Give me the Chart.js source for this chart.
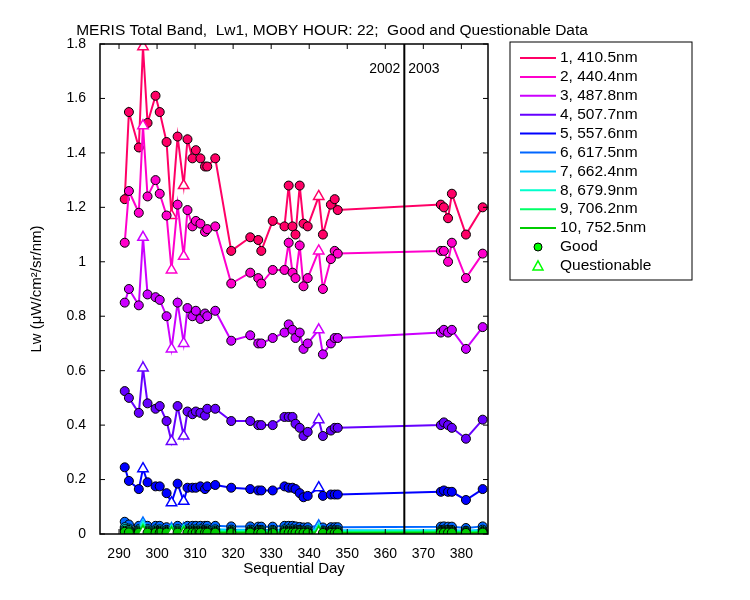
<!DOCTYPE html>
<html><head><meta charset="utf-8">
<script src="https://cdn.jsdelivr.net/npm/chart.js@4"></script>
<style>body{margin:0;background:#fff}canvas{display:block}</style>
</head><body><canvas id="c" width="750" height="600"></canvas>
<script>
const days=[291.5,292.6,295.2,296.3,297.5,299.6,300.7,302.5,303.8,305.4,307,308,309.3,310.2,311.4,312.6,313.2,315.3,319.5,324.5,326.6,327.4,330.4,333.5,334.6,335.6,336.4,337.5,338.5,339.6,342.5,343.6,345.7,346.7,347.5,374.6,375.4,376.5,377.5,381.2,385.6];
const questionable=[0,0,0,1,0,0,0,0,1,0,1,0,0,0,0,0,0,0,0,0,0,0,0,0,0,0,0,0,0,0,1,0,0,0,0,0,0,0,0,0,0];
const bandNames=["1, 410.5nm","2, 440.4nm","3, 487.8nm","4, 507.7nm","5, 557.6nm","6, 617.5nm","7, 662.4nm","8, 679.9nm","9, 706.2nm","10, 752.5nm"];
const band1=[1.23,1.55,1.42,1.79,1.51,1.61,1.55,1.44,1.17,1.46,1.28,1.45,1.38,1.41,1.38,1.35,1.35,1.38,1.04,1.09,1.08,1.04,1.15,1.13,1.28,1.13,1.10,1.28,1.14,1.13,1.24,1.10,1.21,1.23,1.19,1.21,1.20,1.16,1.25,1.10,1.20];
const band2=[1.07,1.26,1.18,1.50,1.24,1.30,1.25,1.17,0.97,1.21,1.02,1.19,1.13,1.15,1.14,1.11,1.12,1.13,0.92,0.96,0.94,0.92,0.97,0.97,1.07,0.96,0.94,1.06,0.91,0.94,1.04,0.90,1.01,1.04,1.03,1.04,1.04,1.00,1.07,0.94,1.03];
const band3=[0.85,0.90,0.84,1.09,0.88,0.87,0.86,0.80,0.68,0.85,0.70,0.83,0.80,0.82,0.79,0.81,0.80,0.82,0.71,0.73,0.70,0.70,0.72,0.74,0.77,0.75,0.72,0.74,0.68,0.70,0.75,0.66,0.70,0.72,0.72,0.74,0.75,0.74,0.75,0.68,0.76];
const band4=[0.525,0.50,0.445,0.61,0.48,0.46,0.47,0.415,0.34,0.47,0.36,0.45,0.44,0.45,0.445,0.435,0.46,0.46,0.415,0.415,0.40,0.40,0.40,0.43,0.43,0.43,0.405,0.39,0.36,0.375,0.42,0.36,0.38,0.39,0.39,0.40,0.41,0.40,0.39,0.35,0.42];
const band5=[0.245,0.195,0.165,0.24,0.19,0.175,0.175,0.15,0.115,0.185,0.12,0.17,0.17,0.17,0.175,0.165,0.175,0.18,0.17,0.165,0.16,0.16,0.16,0.175,0.17,0.17,0.165,0.15,0.135,0.14,0.17,0.14,0.145,0.145,0.145,0.155,0.16,0.155,0.155,0.125,0.165];
const band6=[0.045,0.035,0.03,0.04,0.03,0.03,0.03,0.025,0.02,0.03,0.02,0.03,0.03,0.03,0.03,0.03,0.03,0.03,0.028,0.028,0.027,0.027,0.027,0.03,0.03,0.03,0.028,0.026,0.024,0.025,0.03,0.024,0.025,0.025,0.025,0.027,0.028,0.027,0.027,0.022,0.028];
const band7=[0.025,0.02,0.018,0.03,0.018,0.017,0.017,0.015,0.012,0.018,0.012,0.017,0.017,0.017,0.017,0.016,0.017,0.017,0.016,0.016,0.015,0.015,0.015,0.017,0.017,0.017,0.016,0.015,0.013,0.014,0.018,0.013,0.014,0.014,0.014,0.015,0.016,0.015,0.015,0.012,0.016];
const band8=[0.018,0.015,0.013,0.02,0.013,0.012,0.012,0.011,0.009,0.013,0.009,0.012,0.012,0.012,0.012,0.011,0.012,0.012,0.011,0.011,0.011,0.011,0.011,0.012,0.012,0.012,0.011,0.011,0.01,0.01,0.013,0.01,0.01,0.01,0.01,0.011,0.011,0.011,0.011,0.009,0.011];
const band9=[0.012,0.01,0.009,0.014,0.009,0.008,0.008,0.008,0.006,0.009,0.006,0.008,0.008,0.008,0.008,0.008,0.008,0.008,0.008,0.008,0.007,0.007,0.007,0.008,0.008,0.008,0.008,0.007,0.007,0.007,0.009,0.007,0.007,0.007,0.007,0.008,0.008,0.008,0.008,0.006,0.008];
const band10=[0.008,0.006,0.005,0.009,0.005,0.005,0.005,0.005,0.004,0.005,0.004,0.005,0.005,0.005,0.005,0.005,0.005,0.005,0.005,0.005,0.004,0.004,0.004,0.005,0.005,0.005,0.005,0.004,0.004,0.004,0.006,0.004,0.004,0.004,0.004,0.005,0.005,0.005,0.005,0.004,0.005];
const bands=[band1,band2,band3,band4,band5,band6,band7,band8,band9,band10];
const colors=["#ff0066","#ff00cc","#cc00ff","#6600ff","#0000ff","#0066ff","#00ccff","#00ffcc","#00ff66","#00cc00"];
const xTicks=[290,300,310,320,330,340,350,360,370,380];
const yTicks=[0,0.2,0.4,0.6,0.8,1,1.2,1.4,1.6,1.8];
const yearSplit=365, yearLabels=["2002","2003"];
const titleText="MERIS Total Band,  Lw1, MOBY HOUR: 22;  Good and Questionable Data";
const FONT="'Liberation Sans', Arial, sans-serif";

const datasets=bands.map((b,i)=>({
  label:bandNames[i],
  data:days.map((d,j)=>({x:d,y:b[j]})),
  showLine:true,borderColor:colors[i],borderWidth:2,
  pointStyle:days.map((d,j)=>questionable[j]?'triangle':'circle'),
  pointRadius:days.map((d,j)=>questionable[j]?6:4.5),
  pointBackgroundColor:days.map((d,j)=>questionable[j]?'#ffffff':colors[i]),
  pointBorderColor:days.map((d,j)=>questionable[j]?colors[i]:'#000000'),
  pointBorderWidth:days.map((d,j)=>questionable[j]?1.5:1),
}));
datasets.reverse();

const deco={id:'deco',afterDraw(ch){
  const c=ch.ctx,a=ch.chartArea,xs=ch.scales.x,ys=ch.scales.y;
  c.save();c.strokeStyle='#000';c.lineWidth=1.5;
  c.strokeRect(a.left,a.top,a.right-a.left,a.bottom-a.top);
  c.lineWidth=1;
  xTicks.forEach(t=>{const p=xs.getPixelForValue(t);c.beginPath();c.moveTo(p,a.bottom);c.lineTo(p,a.bottom-5);c.moveTo(p,a.top);c.lineTo(p,a.top+5);c.stroke();});
  yTicks.forEach(t=>{const p=ys.getPixelForValue(t);c.beginPath();c.moveTo(a.left,p);c.lineTo(a.left+5,p);c.moveTo(a.right,p);c.lineTo(a.right-5,p);c.stroke();});
  const px=xs.getPixelForValue(yearSplit);c.lineWidth=2;c.beginPath();c.moveTo(px,a.top);c.lineTo(px,a.bottom);c.stroke();
  c.fillStyle='#000';c.font='14px '+FONT;c.textBaseline='middle';
  c.textAlign='right';c.fillText(yearLabels[0],px-4,a.top+25);
  c.textAlign='left';c.fillText(yearLabels[1],px+4,a.top+25);
  c.font='15.5px '+FONT;
  c.textAlign='center';c.fillText(titleText,332,31);
  // legend
  const lx=510,ly=42,lw=182,lh=238;
  c.fillStyle='#fff';c.fillRect(lx,ly,lw,lh);c.lineWidth=1;c.strokeRect(lx,ly,lw,lh);
  c.font='15.5px '+FONT;c.textAlign='left';
  bandNames.forEach((n,i)=>{const y=ly+16+i*18.9;c.strokeStyle=colors[i];c.lineWidth=2;c.beginPath();c.moveTo(lx+10,y);c.lineTo(lx+46,y);c.stroke();c.fillStyle='#000';c.fillText(n,lx+50,y);});
  let y=ly+16+10*18.9;
  c.fillStyle='#00ff00';c.strokeStyle='#000';c.lineWidth=1;c.beginPath();c.arc(lx+28,y,4,0,Math.PI*2);c.fill();c.stroke();
  c.fillStyle='#000';c.fillText('Good',lx+50,y);
  y+=18.9;c.strokeStyle='#00ff00';c.lineWidth=1.5;c.beginPath();c.moveTo(lx+28,y-5);c.lineTo(lx+33,y+4);c.lineTo(lx+23,y+4);c.closePath();c.stroke();
  c.fillStyle='#000';c.fillText('Questionable',lx+50,y);
  c.restore();
}};

new Chart(document.getElementById('c'),{type:'scatter',data:{datasets},
 options:{responsive:false,animation:false,
  layout:{padding:{top:44,right:262,left:28,bottom:22}},
  plugins:{legend:{display:false},tooltip:{enabled:false}},
  scales:{
   x:{type:'linear',min:285,max:387,afterBuildTicks:s=>{s.ticks=xTicks.map(v=>({value:v}));},
      afterFit:s=>{s.height=44;},
      grid:{display:false},border:{display:false},
      ticks:{color:'#000',font:{family:FONT,size:14},maxRotation:0,padding:4},
      title:{display:true,text:'Sequential Day',color:'#000',font:{family:FONT,size:15},padding:{top:0,bottom:0}}},
   y:{min:0,max:1.8,afterBuildTicks:s=>{s.ticks=yTicks.map(v=>({value:v}));},
      afterFit:s=>{s.width=72;},
      grid:{display:false},border:{display:false},
      ticks:{color:'#000',font:{family:FONT,size:14},padding:6,callback:v=>String(Math.round(v*10)/10)},
      title:{display:true,text:'Lw (μW/cm²/sr/nm)',color:'#000',font:{family:FONT,size:15},padding:{top:0,bottom:0}}}
  }},plugins:[deco]});
</script></body></html>
